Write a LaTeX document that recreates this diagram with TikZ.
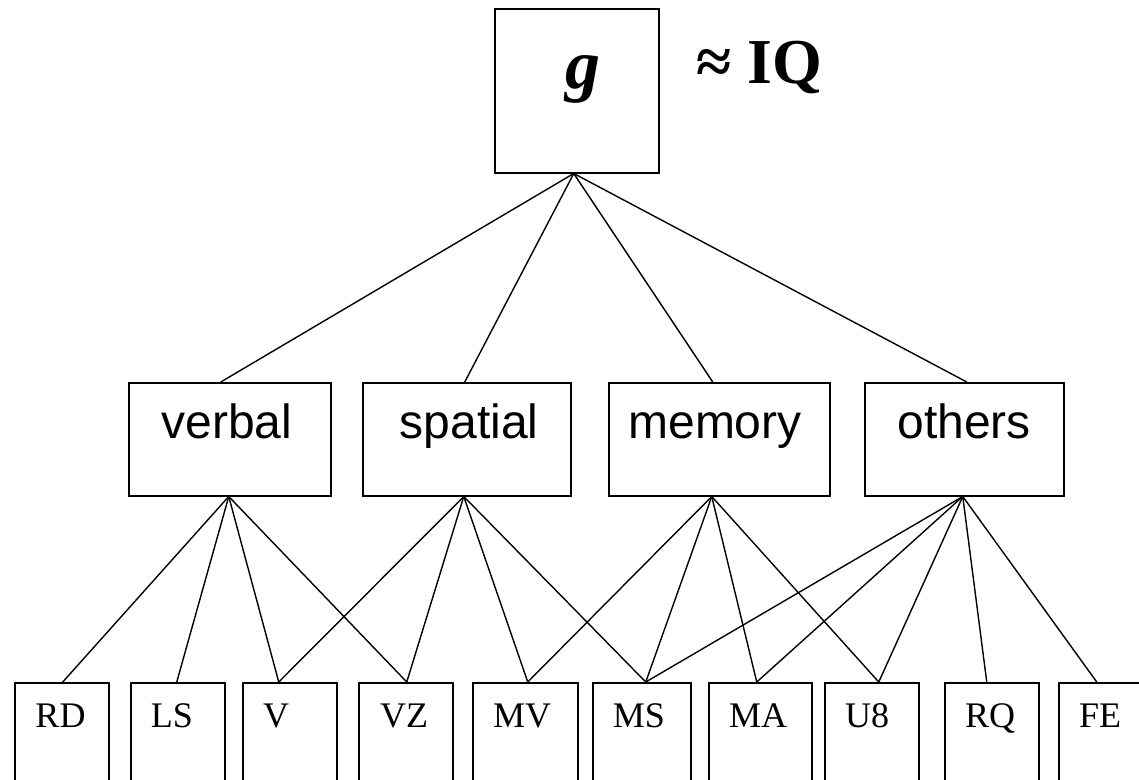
\documentclass[tikz,border=0pt]{standalone}
\usepackage{fontspec}
\setmainfont{Liberation Serif}
\newfontfamily\arialfont{Liberation Sans}
\begin{document}
\begin{tikzpicture}[x=1pt,y=-1pt,
  box/.style={draw, line width=1.5pt, inner sep=0pt, anchor=north west},
  conn/.style={line width=1.4pt},
  midlabel/.style={font=\arialfont\fontsize{48}{48}\selectfont, anchor=base, inner sep=0pt},
  botlabel/.style={font=\fontsize{36}{36}\selectfont, anchor=base, inner sep=0pt}]
\useasboundingbox (0,0) rectangle (1139,779);
\clip (0,0) rectangle (1139,779);
% top
\node[box, minimum width=164pt, minimum height=164pt] (gbox) at (494,8) {};
\node[anchor=base, inner sep=0pt, font=\fontsize{70}{70}\selectfont\bfseries\itshape] (g) at (583,88) {g};
\node[anchor=base west, inner sep=0pt, font=\fontsize{64}{64}\selectfont\bfseries] (iq) at (696,83) {≈ IQ};
% middle
\node[box, minimum width=202pt, minimum height=113pt] (verbal) at (128,382) {};
\node[box, minimum width=208pt, minimum height=113pt] (spatial) at (362,382) {};
\node[box, minimum width=221pt, minimum height=113pt] (memory) at (608,382) {};
\node[box, minimum width=199pt, minimum height=113pt] (others) at (864,382) {};
\node[midlabel] (verbalt) at (227,438) {verbal};
\node[midlabel] (spatialt) at (469,438) {spatial};
\node[midlabel] (memoryt) at (715,438) {memory};
\node[midlabel] (otherst) at (964,438) {others};
% bottom
\node[box, minimum width=94pt, minimum height=150pt] (RDb) at (14,682) {};
\node[box, minimum width=94pt, minimum height=150pt] (LSb) at (130,682) {};
\node[box, minimum width=94pt, minimum height=150pt] (Vb) at (242,682) {};
\node[box, minimum width=94pt, minimum height=150pt] (VZb) at (358,682) {};
\node[box, minimum width=105pt, minimum height=150pt] (MVb) at (472,682) {};
\node[box, minimum width=98pt, minimum height=150pt] (MSb) at (592,682) {};
\node[box, minimum width=103pt, minimum height=150pt] (MAb) at (708,682) {};
\node[box, minimum width=94pt, minimum height=150pt] (U8b) at (824,682) {};
\node[box, minimum width=94pt, minimum height=150pt] (RQb) at (944,682) {};
\node[box, minimum width=94pt, minimum height=150pt] (FEb) at (1058,682) {};
\node[botlabel] (RD) at (60.5,727) {RD};
\node[botlabel] (LS) at (172,727) {LS};
\node[botlabel] (V) at (276,727) {V};
\node[botlabel] (VZ) at (404,727) {VZ};
\node[botlabel] (MV) at (522,727) {MV};
\node[botlabel] (MS) at (639,727) {MS};
\node[botlabel] (MA) at (758,727) {MA};
\node[botlabel] (U8) at (867,727) {U8};
\node[botlabel] (RQ) at (990,727) {RQ};
\node[botlabel] (FE) at (1100,727) {FE};
% attach points
\coordinate (gA) at ([xshift=-3pt]gbox.south);
\coordinate (verbalT) at ([xshift=-9pt]verbal.north);
\coordinate (verbalB) at ([xshift=-1pt]verbal.south);
\coordinate (spatialT) at ([xshift=-2pt]spatial.north);
\coordinate (spatialB) at ([xshift=-3pt]spatial.south);
\coordinate (memoryT) at ([xshift=-6.5pt]memory.north);
\coordinate (memoryB) at ([xshift=-7.5pt]memory.south);
\coordinate (othersT) at ([xshift=2.5pt]others.north);
\coordinate (othersB) at ([xshift=-1.5pt]others.south);
\coordinate (RDa) at ([xshift=1pt]RDb.north);
\coordinate (LSa) at ([xshift=-1pt]LSb.north);
\coordinate (Va) at ([xshift=-11pt]Vb.north);
\coordinate (VZa) at ([xshift=1pt]VZb.north);
\coordinate (MVa) at ([xshift=2.5pt]MVb.north);
\coordinate (MSa) at ([xshift=4pt]MSb.north);
\coordinate (MAa) at ([xshift=-3.5pt]MAb.north);
\coordinate (U8a) at ([xshift=7pt]U8b.north);
\coordinate (RQa) at ([xshift=-5pt]RQb.north);
\coordinate (FEa) at ([xshift=-9pt]FEb.north);
% connectors
\draw[conn] (gA) -- (verbalT);
\draw[conn] (gA) -- (spatialT);
\draw[conn] (gA) -- (memoryT);
\draw[conn] (gA) -- (othersT);
\draw[conn] (verbalB) -- (RDa);
\draw[conn] (verbalB) -- (LSa);
\draw[conn] (verbalB) -- (Va);
\draw[conn] (verbalB) -- (VZa);
\draw[conn] (spatialB) -- (Va);
\draw[conn] (spatialB) -- (VZa);
\draw[conn] (spatialB) -- (MVa);
\draw[conn] (spatialB) -- (MSa);
\draw[conn] (memoryB) -- (MVa);
\draw[conn] (memoryB) -- (MSa);
\draw[conn] (memoryB) -- (MAa);
\draw[conn] (memoryB) -- (U8a);
\draw[conn] (othersB) -- (MSa);
\draw[conn] (othersB) -- (MAa);
\draw[conn] (othersB) -- (U8a);
\draw[conn] (othersB) -- (RQa);
\draw[conn] (othersB) -- (FEa);
\end{tikzpicture}
\end{document}
